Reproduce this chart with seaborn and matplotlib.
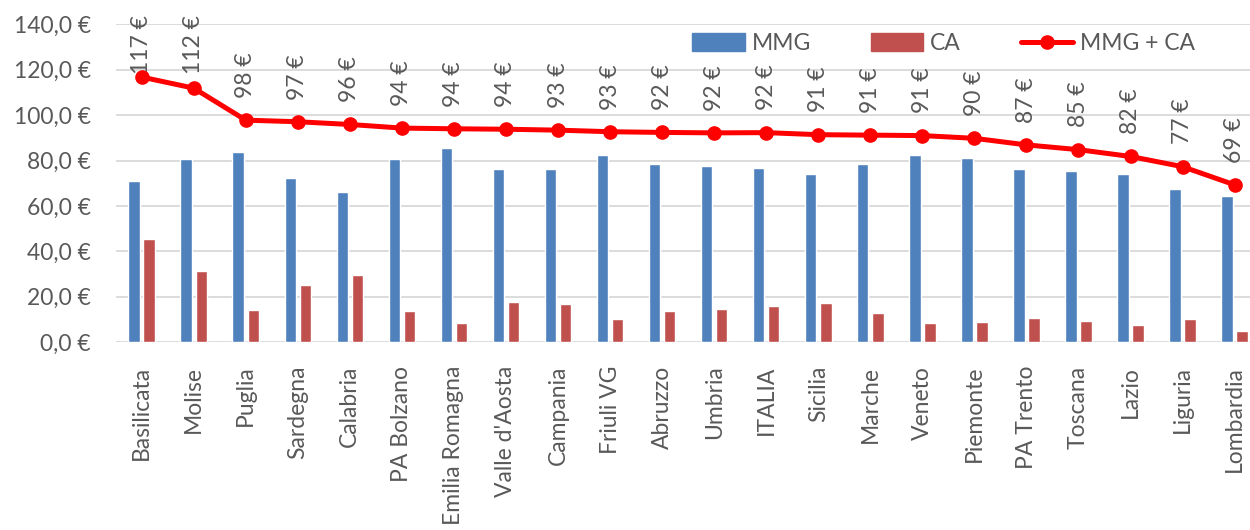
import pandas as pd
import matplotlib
matplotlib.use("Agg")
import matplotlib.pyplot as plt
import matplotlib.ticker as mticker
from matplotlib.patches import Patch
from matplotlib.lines import Line2D
import seaborn as sns

regions = ["Basilicata", "Molise", "Puglia", "Sardegna", "Calabria", "PA Bolzano",
           "Emilia Romagna", "Valle d'Aosta", "Campania", "Friuli VG", "Abruzzo",
           "Umbria", "ITALIA", "Sicilia", "Marche", "Veneto", "Piemonte",
           "PA Trento", "Toscana", "Lazio", "Liguria", "Lombardia"]
mmg = [71.2, 80.7, 83.8, 72.1, 66.3, 80.5, 85.4, 76.3, 76.4, 82.5, 78.6,
       77.5, 76.5, 74.0, 78.5, 82.4, 81.0, 76.4, 75.5, 74.2, 67.3, 64.4]
ca = [45.6, 31.2, 14.0, 25.0, 29.6, 13.8, 8.6, 17.5, 17.0, 10.2, 13.8,
      14.7, 15.8, 17.4, 12.7, 8.6, 8.8, 10.5, 9.3, 7.6, 10.0, 4.9]
totals = [m + c for m, c in zip(mmg, ca)]

df = pd.DataFrame({"Regione": regions * 2,
                   "Valore": mmg + ca,
                   "Serie": ["MMG"] * len(regions) + ["CA"] * len(regions)})

sns.set_theme(style="white")
plt.rcParams['font.family'] = ['Lato', 'DejaVu Sans']
txt = "#595959"
fs = 16.5

fig = plt.figure(figsize=(12.5, 5.3), dpi=100)
ax = fig.add_axes([0.0925, 0.3545, 0.916, 0.5995])

sns.barplot(data=df, x="Regione", y="Valore", hue="Serie",
            palette={"MMG": "#4F81BD", "CA": "#C0504D"},
            width=0.58, gap=0.24, ax=ax, legend=False, saturation=1)
ax.plot(range(len(regions)), totals, color="#FF0000", lw=3.6, marker="o",
        ms=9.5, label="MMG + CA", zorder=5)

# etichette dati: le prime due sono spinte dentro l'area del grafico
for i, t in enumerate(totals):
    lab = f"{t:.0f} €"
    if t > 105:
        ax.text(i, 144, lab, rotation=90, ha="center", va="top",
                fontsize=fs, color=txt, clip_on=False)
    else:
        ax.annotate(lab, (i, t), xytext=(0, 16), textcoords="offset points",
                    rotation=90, ha="center", va="bottom", fontsize=fs, color=txt)

ax.set_ylim(0, 140)
ax.set_xlim(-0.5, len(regions) - 0.5)
ax.yaxis.set_major_locator(mticker.MultipleLocator(20))
ax.yaxis.set_major_formatter(mticker.FuncFormatter(lambda v, p: f"{v:.1f} €".replace(".", ",")))
ax.grid(axis="y", color="#D9D9D9", lw=1.3)
ax.set_axisbelow(True)
for s in ax.spines.values():
    s.set_visible(False)
ax.set_xlabel("")
ax.set_ylabel("")
ax.tick_params(axis="y", labelsize=fs, labelcolor=txt, length=0, pad=18)
ax.tick_params(axis="x", labelsize=fs, labelcolor=txt, length=0, pad=17, rotation=90)

handles = [Patch(color="#4F81BD"), Patch(color="#C0504D"),
           Line2D([], [], color="#FF0000", lw=3.6, marker="o", ms=9.5)]
fig.legend(handles, ["MMG", "CA", "MMG + CA"], loc="center", bbox_to_anchor=(0.755, 0.918),
           ncol=3, frameon=False, fontsize=fs, labelcolor=txt, handlelength=2.3,
           handleheight=0.8, columnspacing=2.6, handletextpad=0.3)

fig.savefig("out.png", dpi=100)
